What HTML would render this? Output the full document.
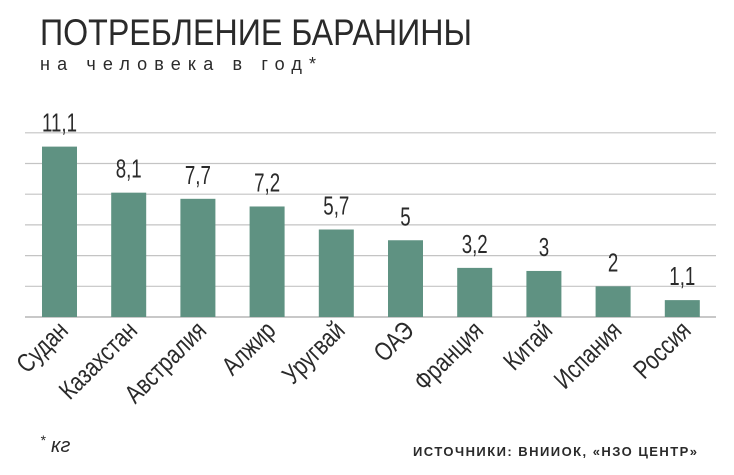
<!DOCTYPE html>
<html><head><meta charset="utf-8"><style>
html,body{margin:0;padding:0;background:#fff;width:734px;height:475px;overflow:hidden}
svg{display:block}
text{font-family:"Liberation Sans","Noto Sans CJK SC",sans-serif}
</style></head><body>
<svg id="chart" width="734" height="475">
  <text x="40" y="45" font-size="37" fill="#2a2a2a" textLength="432" lengthAdjust="spacingAndGlyphs">ПОТРЕБЛЕНИЕ БАРАНИНЫ</text>
  <text x="40" y="70" font-size="18" fill="#2a2a2a" textLength="276" lengthAdjust="spacing" font-family="Liberation Mono, monospace">на человека в год*</text>
  <g id="grid"></g>
  <g id="bars"></g>
  <text x="40" y="452" font-size="20" font-style="italic" font-family="Liberation Serif, serif" fill="#2a2a2a"><tspan font-size="14" dy="-7">*</tspan><tspan dy="7"> кг</tspan></text>
  <text x="413" y="456" font-size="13" font-weight="bold" fill="#2a2a2a" textLength="284" lengthAdjust="spacing">ИСТОЧНИКИ: ВНИИОК, «НЗО ЦЕНТР»</text>
</svg>
<script>
const categories = ["Судан","Казахстан","Австралия","Алжир","Уругвай","ОАЭ","Франция","Китай","Испания","Россия"];
const values = [11.1, 8.1, 7.7, 7.2, 5.7, 5, 3.2, 3, 2, 1.1];
const valueLabels = ["11,1","8,1","7,7","7,2","5,7","5","3,2","3","2","1,1"];
const gridTicks = [0, 2, 4, 6, 8, 10, 12];

const NS = "http://www.w3.org/2000/svg";
const baseY = 317, pxPerUnit = 15.35;
const y = v => baseY - v * pxPerUnit;
const x0 = 42, step = 69.2, barW = 35;
const x = i => x0 + i * step;

const grid = document.getElementById('grid');
gridTicks.forEach(t => {
  const l = document.createElementNS(NS, 'line');
  l.setAttribute('x1', 25); l.setAttribute('x2', 716);
  l.setAttribute('y1', y(t)); l.setAttribute('y2', y(t));
  l.setAttribute('stroke', t === 0 ? '#a8a8a8' : '#c4c4c4');
  l.setAttribute('stroke-width', 1.2);
  
  
  grid.appendChild(l);
});

const bars = document.getElementById('bars');
categories.forEach((c, i) => {
  const r = document.createElementNS(NS, 'rect');
  r.setAttribute('x', x(i)); r.setAttribute('width', barW);
  r.setAttribute('y', y(values[i])); r.setAttribute('height', baseY - y(values[i]));
  r.setAttribute('fill', '#5f9282');
  
  
  bars.appendChild(r);

  const cxv = x(i) + barW / 2;
  const t = document.createElementNS(NS, 'text');
  t.setAttribute('x', 0);
  t.setAttribute('y', 0);
  t.setAttribute('text-anchor', 'middle');
  t.setAttribute('font-size', '26');
  t.setAttribute('fill', '#2a2a2a');
  t.setAttribute('transform', `translate(${cxv} ${y(values[i]) - 15}) scale(0.72 1)`);
  t.textContent = valueLabels[i];
  
  
  bars.appendChild(t);

  const cx = cxv + 10, cy = 332;
  const lb = document.createElementNS(NS, 'text');
  lb.setAttribute('x', 0); lb.setAttribute('y', 0);
  lb.setAttribute('text-anchor', 'end');
  lb.setAttribute('font-size', '26');
  lb.setAttribute('fill', '#2a2a2a');
  lb.setAttribute('transform', `translate(${cx} ${cy}) rotate(-45) scale(0.8 1)`);
  lb.textContent = c;
  
  
  bars.appendChild(lb);
});
</script>
</body></html>
